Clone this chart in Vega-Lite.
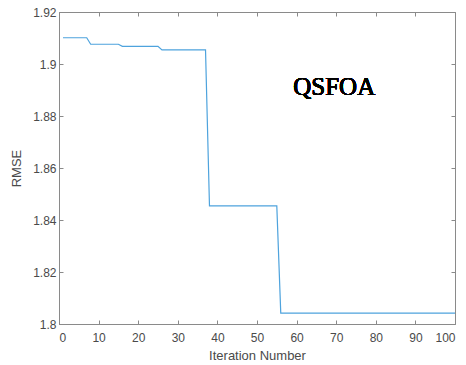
{
  "$schema": "https://vega.github.io/schema/vega-lite/v6.json",
  "width": 396,
  "height": 312,
  "autosize": "none",
  "padding": {"left": 59, "top": 12, "right": 11, "bottom": 41},
  "background": "white",
  "config": {
    "view": {"stroke": "#8a8a8a", "strokeWidth": 1},
    "axis": {
      "domainColor": "#8a8a8a",
      "tickColor": "#8a8a8a",
      "labelColor": "#4a4a4a",
      "titleColor": "#4a4a4a",
      "labelFont": "Liberation Sans",
      "titleFont": "Liberation Sans",
      "labelFontSize": 12,
      "titleFontSize": 13,
      "titleFontWeight": "normal",
      "grid": false
    }
  },
  "data": {
    "values": [
      {"iter": 1, "rmse": 1.9101},
      {"iter": 7, "rmse": 1.9101},
      {"iter": 8, "rmse": 1.9076},
      {"iter": 15, "rmse": 1.9076},
      {"iter": 16, "rmse": 1.9068},
      {"iter": 25, "rmse": 1.9068},
      {"iter": 26, "rmse": 1.9054},
      {"iter": 37, "rmse": 1.9054},
      {"iter": 38, "rmse": 1.8454},
      {"iter": 55, "rmse": 1.8454},
      {"iter": 56, "rmse": 1.8042},
      {"iter": 100, "rmse": 1.8042}
    ]
  },
  "layer": [
    {
      "mark": {"type": "line", "color": "#4ea3dd", "strokeWidth": 1.2},
      "encoding": {
        "x": {
          "field": "iter", "type": "quantitative",
          "scale": {"domain": [0, 100], "nice": false, "zero": false},
          "axis": {"title": "Iteration Number", "values": [0,10,20,30,40,50,60,70,80,90,100], "tickSize": -4, "labelPadding": 12, "titlePadding": 6}
        },
        "y": {
          "field": "rmse", "type": "quantitative",
          "scale": {"domain": [1.8, 1.92], "nice": false, "zero": false},
          "axis": {"title": "RMSE", "values": [1.8,1.82,1.84,1.86,1.88,1.9,1.92], "format": ".3~g", "tickSize": -4, "labelPadding": 7, "titlePadding": 9}
        }
      }
    },
    {
      "mark": {"type": "text", "font": "Liberation Serif", "fontSize": 25, "fontWeight": "normal", "color": "#000000", "align": "center", "baseline": "middle"},
      "encoding": {
        "x": {"datum": 69.5, "type": "quantitative", "axis": {"orient": "top", "title": null, "labels": false, "values": [0,10,20,30,40,50,60,70,80,90,100], "tickSize": -4, "domain": false}},
        "y": {"datum": 1.891, "type": "quantitative", "axis": {"orient": "right", "title": null, "labels": false, "values": [1.8,1.82,1.84,1.86,1.88,1.9,1.92], "tickSize": -4, "domain": false}},
        "text": {"value": "QSFOA"}
      }
    }
  ],
  "resolve": {"axis": {"x": "independent", "y": "independent"}}
}
